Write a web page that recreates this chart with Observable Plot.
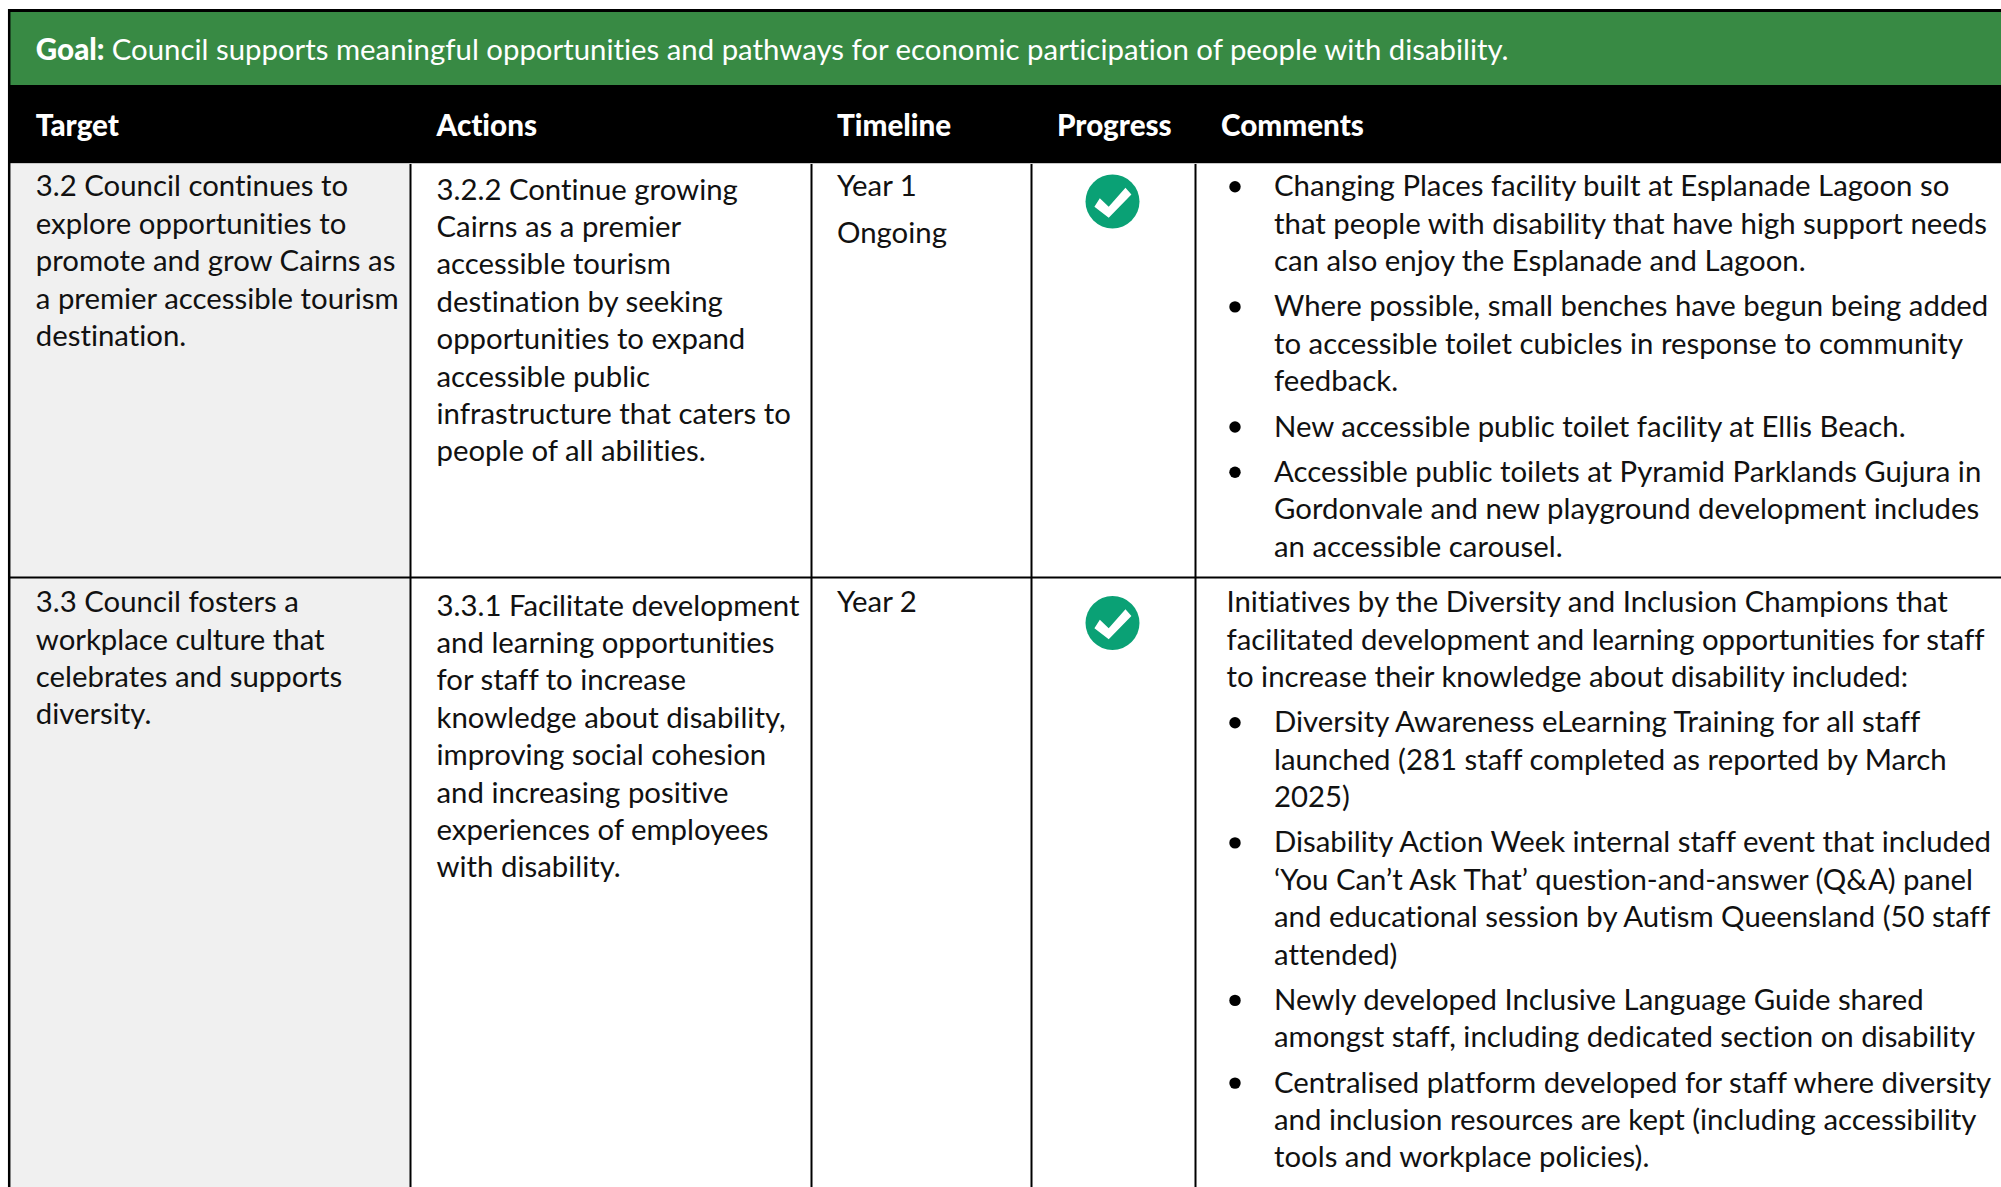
<!DOCTYPE html>
<html><head><meta charset="utf-8">
<script src="https://cdn.jsdelivr.net/npm/d3@7"></script>
<script src="https://cdn.jsdelivr.net/npm/@observablehq/plot@0.6"></script>
<style>html,body{margin:0;padding:0;background:#fff}svg{display:block}svg text{font-variant-ligatures:none}</style>
</head><body><div id="chart"></div>
<script>
const goalLabel = "Goal:";
const goalText = "Council supports meaningful opportunities and pathways for economic participation of people with disability.";
const columns = ["Target","Actions","Timeline","Progress","Comments"];

const row1Target = ["3.2 Council continues to","explore opportunities to","promote and grow Cairns as","a premier accessible tourism","destination."];
const row1Actions = ["3.2.2 Continue growing","Cairns as a premier","accessible tourism","destination by seeking","opportunities to expand","accessible public","infrastructure that caters to","people of all abilities."];
const row1Timeline = ["Year 1","Ongoing"];
const row1Bullets = [
  ["Changing Places facility built at Esplanade Lagoon so","that people with disability that have high support needs","can also enjoy the Esplanade and Lagoon."],
  ["Where possible, small benches have begun being added","to accessible toilet cubicles in response to community","feedback."],
  ["New accessible public toilet facility at Ellis Beach."],
  ["Accessible public toilets at Pyramid Parklands Gujura in","Gordonvale and new playground development includes","an accessible carousel."]
];
const row2Target = ["3.3 Council fosters a","workplace culture that","celebrates and supports","diversity."];
const row2Actions = ["3.3.1 Facilitate development","and learning opportunities","for staff to increase","knowledge about disability,","improving social cohesion","and increasing positive","experiences of employees","with disability."];
const row2Timeline = ["Year 2"];
const row2Intro = ["Initiatives by the Diversity and Inclusion Champions that","facilitated development and learning opportunities for staff","to increase their knowledge about disability included:"];
const row2Bullets = [
  ["Diversity Awareness eLearning Training for all staff","launched (281 staff completed as reported by March","2025)"],
  ["Disability Action Week internal staff event that included","‘You Can’t Ask That’ question-and-answer (Q&A) panel","and educational session by Autism Queensland (50 staff","attended)"],
  ["Newly developed Inclusive Language Guide shared","amongst staff, including dedicated section on disability"],
  ["Centralised platform developed for staff where diversity","and inclusion resources are kept (including accessibility","tools and workplace policies)."]
];

// ---- layout (kept apart from the content above)
const W = 2001, H = 1187, FS = 29.35, PITCH = 37.4, GAP = 45.3;
const left = 8.7, rules = [410, 811, 1031, 1195];
const headerX = [35.3, 436, 836.5, 1056.5, 1220.5];
const textX = {target: 35.3, actions: 436, timeline: 836.5, intro: 1226, bullet: 1273.5, dot: 1234.5};
const rowY = {r1: 195.8, r1a: 199, r2: 611.7, r2a: 615};

const lines = [];
const block = (arr, x, y0, pitch = PITCH) => arr.forEach((t, i) => lines.push({t, x, y: y0 + i * pitch}));
block(row1Target, textX.target, rowY.r1);
block(row1Actions, textX.actions, rowY.r1a);
block(row1Timeline, textX.timeline, rowY.r1, 46.5);
block(row2Target, textX.target, rowY.r2);
block(row2Actions, textX.actions, rowY.r2a);
block(row2Timeline, textX.timeline, rowY.r2);

const bullets = [];
function bulletList(list, y0) {
  let y = y0;
  for (const para of list) {
    bullets.push({y: y - 9.5});
    block(para, textX.bullet, y);
    y += (para.length - 1) * PITCH + GAP;
  }
}
bulletList(row1Bullets, rowY.r1);
block(row2Intro, textX.intro, rowY.r2);
bulletList(row2Bullets, rowY.r2 + 2 * PITCH + GAP);

const checks = [{y: 201}, {y: 622.5}];
const checkSymbol = {draw(ctx, size) {
  const s = Math.sqrt(size / Math.PI);
  const pts = [[-.67,.19],[-.47,-.12],[-.14,.19],[.48,-.51],[.70,-.26],[-.14,.60]];
  pts.forEach(([a,b],i) => i ? ctx.lineTo(a*s,b*s) : ctx.moveTo(a*s,b*s));
  ctx.closePath();
}};

const font = {fontFamily: "Lato", fontSize: FS, textAnchor: "start", lineAnchor: "bottom"};
const chart = Plot.plot({
  width: W, height: H, margin: 0,
  x: {domain: [0, W], range: [0, W], axis: null},
  y: {domain: [0, H], range: [0, H], axis: null},
  marks: [
    Plot.rect([0], {x1: left, x2: 410, y1: 163, y2: H, fill: "#f0f0f0"}),
    Plot.rect([0], {x1: left, x2: W, y1: 12, y2: 85, fill: "#388a44"}),
    Plot.rect([0], {x1: left, x2: W, y1: 85, y2: 163, fill: "#000"}),
    Plot.ruleY([10], {x1: 8, x2: W, stroke: "#000", strokeWidth: 3}),
    Plot.ruleY([163], {x1: left, x2: W, stroke: "#c8c8c8", strokeWidth: 1}),
    Plot.ruleY([577], {x1: left, x2: W, stroke: "#000", strokeWidth: 2}),
    Plot.ruleX([left], {y1: 9, y2: H, stroke: "#000", strokeWidth: 2.5}),
    Plot.ruleX(rules, {y1: 164, y2: H, stroke: "#000", strokeWidth: 2}),
    Plot.text([goalLabel], {...font, x: 35.3, y: 59, text: d => d, fill: "#fff", fontWeight: 900, fontSize: 29.6}),
    Plot.text([goalText], {...font, x: 111.3, y: 59, text: d => d, fill: "#fff"}),
    Plot.text(columns, {...font, x: (d, i) => headerX[i], y: 135, text: d => d, fill: "#fff", fontWeight: 900, fontSize: 29.6}),
    Plot.text(lines, {...font, x: "x", y: "y", text: "t", fill: "#111"}),
    Plot.dot(bullets, {x: textX.dot, y: "y", r: 5.7, fill: "#000"}),
    Plot.dot(checks, {x: 1112, y: "y", r: 27, fill: "#0aa175"}),
    Plot.dot(checks, {x: 1112, y: "y", r: 27, fill: "#fff", symbol: checkSymbol})
  ]
});
document.getElementById("chart").appendChild(chart);
</script></body></html>
